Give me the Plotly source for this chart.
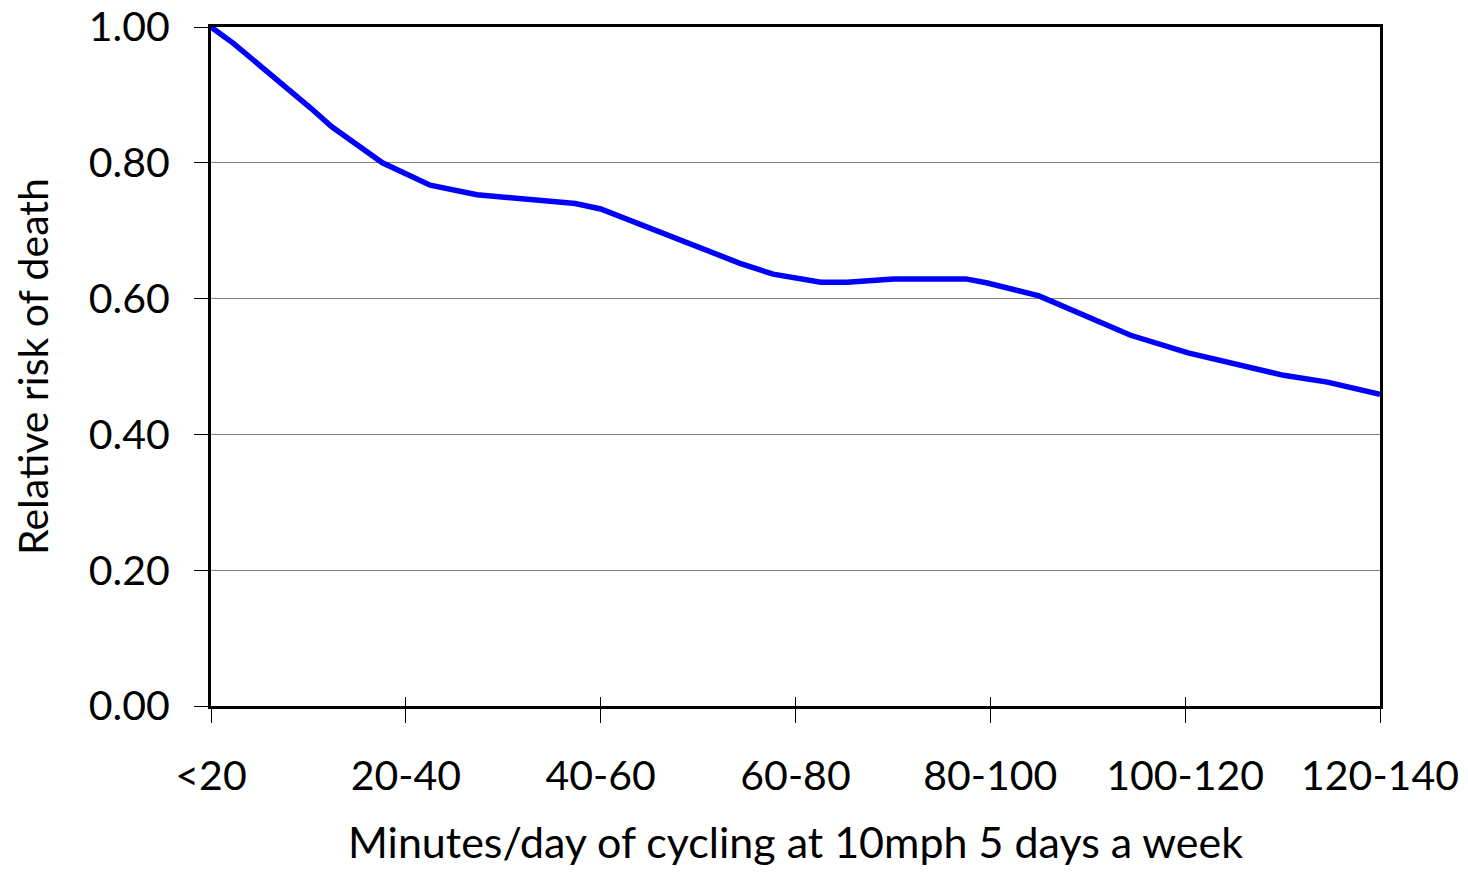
import plotly.graph_objects as go

# Data (minutes of cycling/day vs relative risk)
minutes = [0, 2.3, 10.2, 12.4, 17.6, 22.5, 27.3, 37.4, 40.0, 44.8, 49.5, 54.3,
           57.7, 62.6, 65.3, 70.1, 77.5, 79.7, 85.0, 94.4, 100.3, 110.1, 114.6, 120.0]
relative_risk = [1.000, 0.976, 0.881, 0.853, 0.800, 0.767, 0.753, 0.740, 0.732, 0.705,
                 0.679, 0.652, 0.636, 0.624, 0.624, 0.629, 0.629, 0.623, 0.604, 0.546,
                 0.520, 0.487, 0.477, 0.459]

tick_positions = [0, 20, 40, 60, 80, 100, 120]
tick_labels = ["<20", "20-40", "40-60", "60-80", "80-100", "100-120", "120-140"]
y_ticks = [0.0, 0.2, 0.4, 0.6, 0.8, 1.0]

FONT = "Lato, 'Open Sans', sans-serif"

fig = go.Figure()
fig.add_trace(go.Scatter(
    x=minutes, y=relative_risk, mode="lines",
    line=dict(color="#0000FF", width=5.5),
    hoverinfo="skip", showlegend=False, cliponaxis=False,
))

# page body has an 8px default margin, so the figure is sized to fit inside it
fig.update_layout(
    width=1452, height=859,
    margin=dict(l=203, r=80, t=19, b=161, autoexpand=False),
    paper_bgcolor="white", plot_bgcolor="white",
    font=dict(family=FONT, size=41, color="black"),
    xaxis=dict(
        range=[0, 120], tickmode="array", tickvals=tick_positions, ticktext=tick_labels,
        showgrid=False, zeroline=False, automargin=False,
        showline=True, linecolor="black", linewidth=3, mirror=True,
        ticks="outside", ticklen=14, tickwidth=1, tickcolor="black",
        tickfont=dict(size=41), ticklabelstandoff=18, ticklabeloverflow="allow",
        title=dict(text="Minutes/day of cycling at 10mph 5 days a week",
                   font=dict(size=43), standoff=44),
    ),
    xaxis2=dict(
        range=[0, 120], overlaying="x", side="bottom", anchor="y",
        tickmode="array", tickvals=tick_positions, showticklabels=False,
        showgrid=False, zeroline=False, showline=False, automargin=False,
        ticks="inside", ticklen=9, tickwidth=1, tickcolor="black",
    ),
    yaxis=dict(
        range=[0, 1.0], tickmode="array", tickvals=y_ticks,
        tickformat=".2f", automargin=False, ticklabeloverflow="allow",
        showgrid=True, gridcolor="#808080", gridwidth=1,
        zeroline=False,
        showline=True, linecolor="black", linewidth=3, mirror=True,
        ticks="outside", ticklen=14, tickwidth=1, tickcolor="black",
        tickfont=dict(size=41), ticklabelstandoff=16,
        title=dict(text="Relative risk of death", font=dict(size=41), standoff=30),
    ),
)

# invisible trace bound to the overlay axis so its ticks render
fig.add_trace(go.Scatter(x=[minutes[0]], y=[relative_risk[0]], xaxis="x2", mode="markers",
                         marker=dict(opacity=0), hoverinfo="skip", showlegend=False))

fig.write_html("out.html")
